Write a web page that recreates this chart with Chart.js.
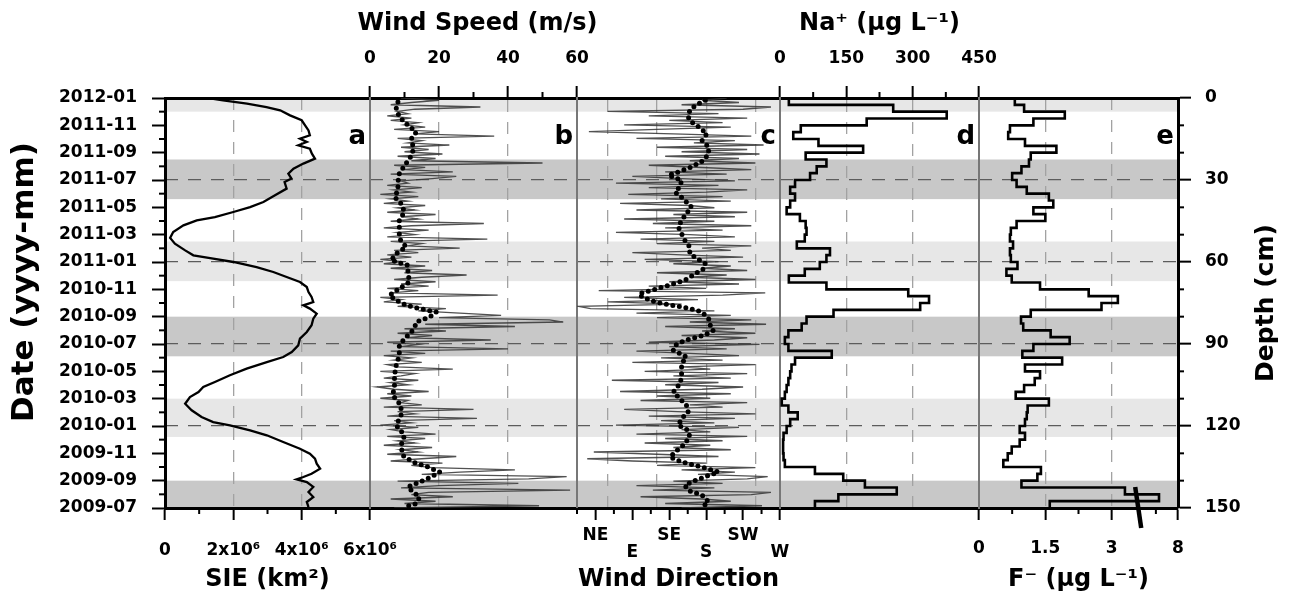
<!DOCTYPE html>
<html>
<head>
<meta charset="utf-8">
<title>SIE, wind and snow-pit ion profiles</title>
<script src="https://cdn.jsdelivr.net/npm/chart.js@4.4.1/dist/chart.umd.min.js"></script>
<style>
  html, body { margin: 0; padding: 0; background: #fff; }
  #fig { position: relative; width: 1302px; height: 598px; overflow: hidden; background: #fff; }
  #fig canvas { position: absolute; left: 0; top: 0; }
</style>
</head>
<body>
<div id="fig">
  <canvas id="panelA" width="1302" height="598"></canvas>
  <canvas id="panelB" width="1302" height="598"></canvas>
  <canvas id="panelC" width="1302" height="598"></canvas>
  <canvas id="panelD" width="1302" height="598"></canvas>
  <canvas id="panelE" width="1302" height="598"></canvas>
</div>
<script>
// ========================================================================
// 1. DATA
// ========================================================================

// shared vertical axes: months since 2009-07 (left) and depth in cm (right)
const dateTickLabels = ['2009-07', '2009-09', '2009-11', '2010-01', '2010-03', '2010-05', '2010-07', '2010-09',
  '2010-11', '2011-01', '2011-03', '2011-05', '2011-07', '2011-09', '2011-11', '2012-01'];
const dateMinor = [1, 3, 5, 7, 9, 11, 13, 15, 17, 19, 21, 23, 25, 27, 29];
const depthTicks = [0, 30, 60, 90, 120, 150];
const depthTickLabels = ['0', '30', '60', '90', '120', '150'];
const depthMinor = [10, 20, 40, 50, 70, 80, 100, 110, 130, 140];

// shaded layers (depth, cm)
const bandFrom = [0, 22.5, 52.5, 80, 110, 140];
const bandTo = [5, 37, 67, 94.5, 124, 150];
const bandTone = ['light', 'dark', 'light', 'dark', 'light', 'dark'];

// a: sea ice extent, 10^6 km² (months since 2009-07, newest first)
const sieMonths = [30.0, 29.83, 29.59, 29.34, 29.1, 28.73, 28.37, 28.0, 27.63, 27.27,
  27.02, 26.78, 26.54, 26.29, 25.93, 25.56, 25.2, 24.83, 24.46, 24.1,
  23.85, 23.37, 22.88, 22.39, 22.02, 21.66, 21.29, 21.05, 20.68, 20.2,
  19.76, 19.34, 18.85, 18.49, 18.24, 18.0, 17.63, 17.27, 16.9, 16.54,
  16.17, 15.8, 15.44, 15.07, 14.83, 14.59, 14.22, 13.85, 13.37, 12.88,
  12.39, 11.9, 11.41, 11.05, 10.68, 10.2, 9.71, 9.22, 8.85, 8.49,
  8.12, 7.63, 7.15, 6.66, 6.29, 6.05, 5.68, 5.32, 4.83, 4.34,
  3.98, 3.61, 3.24, 2.88, 2.51, 2.27, 2.1, 1.9, 1.54, 1.17,
  0.8, 0.44, 0.07];
const sieValues = [1.27, 1.7, 2.4, 2.97, 3.37, 3.66, 4.0, 4.1, 4.2, 4.24,
  3.95, 4.15, 3.9, 4.24, 4.3, 4.39, 4.05, 3.76, 3.61, 3.7,
  3.5, 3.56, 3.22, 2.88, 2.49, 2.0, 1.46, 0.93, 0.54, 0.24,
  0.15, 0.29, 0.59, 0.83, 1.41, 2.0, 2.68, 3.17, 3.56, 3.95,
  4.15, 4.2, 4.29, 4.34, 4.05, 4.24, 4.44, 4.34, 4.29, 4.15,
  3.95, 3.9, 3.71, 3.46, 2.98, 2.39, 1.9, 1.46, 1.12, 0.98,
  0.73, 0.59, 0.78, 1.07, 1.41, 1.9, 2.49, 2.98, 3.46, 3.95,
  4.24, 4.39, 4.44, 4.54, 4.29, 4.05, 3.85, 4.15, 4.34, 4.2,
  4.34, 4.15, 4.2];
const sieTickLabels = ['0', '2x10⁶', '4x10⁶', '6x10⁶'];

// b/c: wind samples, one about every 5 days from 2009-07 to 2012-01 (oldest first)
const windSpeed = [7, 49, 10, 19, 6, 24, 12, 17, 58, 9,
  20, 43, 8, 46, 57, 15, 26, 42, 18, 12,
  21, 6, 15, 25, 5, 14, 9, 18, 4, 13,
  8, 16, 5, 19, 10, 6, 14, 3, 12, 7,
  31, 5, 13, 8, 30, 4, 15, 9, 11, 3,
  12, 5, 17, 7, 2, 11, 6, 14, 4, 9,
  13, 3, 24, 8, 5, 15, 7, 12, 4, 16,
  6, 40, 9, 14, 5, 35, 11, 18, 8, 22,
  10, 42, 16, 56, 52, 20, 38, 26, 14, 22,
  8, 15, 4, 9, 3, 37, 6, 14, 5, 17,
  9, 19, 7, 15, 28, 10, 18, 6, 16, 4,
  9, 3, 12, 5, 14, 7, 26, 11, 15, 6,
  34, 5, 13, 8, 17, 4, 12, 33, 6, 14,
  9, 19, 5, 13, 8, 16, 4, 11, 6, 14,
  3, 12, 7, 15, 5, 11, 9, 18, 25, 6,
  24, 10, 16, 7, 50, 12, 19, 8, 21, 10,
  17, 9, 23, 11, 15, 8, 36, 13, 20, 7,
  16, 10, 14, 6, 12, 5, 11, 8, 13, 32,
  6, 12, 20, 9];
const windDir = [150, 248, 130, 210, 175, 100, 235, 259, 115, 190,
  95, 200, 140, 230, 255, 170, 215, 150, 240, 120,
  180, 90, 35, 195, 120, 43, 210, 140, 185, 105,
  200, 130, 230, 95, 185, 150, 220, 70, 190, 125,
  215, 110, 240, 145, 80, 200, 160, 230, 100, 185,
  120, 210, 75, 175, 225, 130, 195, 65, 210, 140,
  230, 105, 185, 150, 240, 90, 200, 125, 220, 160,
  95, 205, 135, 245, 110, 190, 230, 150, 240, 175,
  215, 130, 253, 160, 235, 120, 210, 95, 190, 39,
  25, 150, 60, 170, 80, 200, 252, 49, 180, 110,
  220, 135, 240, 160, 205, 120, 230, 175, 210, 140,
  195, 105, 225, 150, 90, 210, 175, 235, 120, 190,
  100, 215, 160, 70, 200, 130, 235, 115, 190, 80,
  215, 140, 230, 95, 190, 160, 75, 210, 125, 200,
  85, 180, 230, 110, 195, 70, 215, 150, 90, 205,
  130, 235, 175, 110, 240, 160, 220, 130, 245, 150,
  230, 120, 250, 165, 215, 95, 235, 140, 37, 120,
  210, 80, 200, 135, 230, 110, 195, 60, 225, 259,
  150, 220, 175, 205];

// b: smoothed wind speed (dots), newest first
const meanSpeedMonths = [29.71, 29.22, 28.61, 28.0, 27.51, 27.02, 26.54, 26.05, 25.56, 25.07,
  24.46, 23.85, 23.24, 22.76, 22.27, 21.66, 21.05, 20.44, 19.71, 19.1,
  18.61, 18.12, 17.76, 17.15, 16.54, 16.05, 15.56, 15.2, 14.83, 14.59,
  14.34, 13.98, 13.61, 13.24, 12.88, 12.39, 11.9, 11.17, 10.44, 9.71,
  8.98, 8.24, 7.51, 6.78, 6.05, 5.32, 4.59, 3.85, 3.37, 3.0,
  2.63, 2.27, 1.9, 1.54, 1.17, 0.8, 0.32, 0.07];
const meanSpeed = [8.1, 7.6, 8.5, 11, 13.4, 12, 12.4, 12.4, 11.5, 10,
  8.5, 8.1, 8.1, 7.1, 9, 10, 8.5, 8.5, 8.5, 10.5,
  7.6, 6.1, 11, 11, 11.5, 8.5, 5.6, 7.6, 10.5, 14.4,
  19.2, 17.3, 13.4, 13, 12, 10, 8.5, 8.5, 7.6, 7.1,
  7.1, 6.6, 9, 9, 7.6, 10, 9, 9.5, 12.4, 16.8,
  20.2, 17.8, 14.4, 11, 12.4, 14.4, 13.4, 10];
const speedTickLabels = ['0', '20', '40', '60'];
const speedMinor = [10, 30, 50];

// c: smoothed wind direction (dots, degrees), newest first
const meanDirMonths = [29.83, 29.46, 29.1, 28.61, 28.24, 27.88, 27.39, 26.9, 26.41, 25.93,
  25.44, 24.95, 24.59, 24.34, 23.98, 23.49, 23.12, 22.63, 22.02, 21.54,
  21.05, 20.56, 20.07, 19.59, 19.1, 18.61, 18.24, 17.88, 17.51, 17.15,
  16.66, 16.29, 15.93, 15.68, 15.44, 15.07, 14.83, 14.63, 14.34, 13.85,
  13.37, 13.0, 12.63, 12.27, 11.9, 11.54, 11.05, 10.56, 10.07, 9.59,
  9.1, 8.49, 8.0, 7.51, 7.02, 6.54, 6.05, 5.68, 5.2, 4.59,
  4.1, 3.73, 3.37, 3.0, 2.63, 2.39, 2.02, 1.66, 1.29, 0.93,
  0.44, 0.07];
const meanDir = [179, 167, 160, 158, 162, 171, 181, 175, 183, 183,
  177, 162, 146, 134, 150, 148, 142, 152, 162, 156,
  150, 146, 150, 154, 160, 160, 169, 179, 177, 167,
  154, 134, 114, 98, 102, 118, 138, 158, 175, 183,
  185, 189, 177, 154, 142, 140, 156, 150, 150, 150,
  148, 140, 148, 156, 158, 150, 146, 158, 160, 152,
  142, 136, 150, 175, 195, 183, 167, 154, 158, 175,
  183, 175];
const dirTicks = [45, 90, 135, 180, 225, 270];
const dirLabels = ['NE', 'E', 'SE', 'S', 'SW', 'W'];
const dirGrid = [60, 120, 180, 240];
const dirMinor = [22.5, 67.5, 112.5, 157.5, 202.5, 247.5];

// d/e: snow-pit samples, 2.5 cm each from the surface down to 150 cm
const sampleDepth = 2.5;
const naValues = [20, 256, 377, 196, 47, 30, 87, 188, 58, 105,
  83, 68, 34, 23, 34, 23, 15, 45, 58, 60,
  56, 38, 113, 105, 90, 56, 20, 105, 290, 337,
  317, 121, 60, 49, 19, 11, 19, 117, 34, 26,
  23, 19, 15, 11, 4, 19, 40, 23, 15, 8,
  7, 7, 8, 11, 79, 143, 192, 264, 132, 79];
const naTickLabels = ['0', '150', '300', '450'];
const naMinor = [75, 225, 375];

const fValues = [0.81, 1.02, 1.94, 1.23, 0.70, 0.66, 1.04, 1.75, 1.17, 1.13,
  0.96, 0.75, 0.85, 1.08, 1.58, 1.68, 1.23, 1.50, 0.85, 0.72,
  0.70, 0.77, 0.70, 0.72, 0.87, 0.62, 0.74, 1.38, 2.48, 3.14,
  2.77, 1.17, 0.95, 1.00, 1.62, 2.05, 1.23, 0.98, 1.88, 1.04,
  1.38, 1.26, 1.02, 0.83, 1.58, 1.10, 1.08, 1.04, 0.92, 1.04,
  0.92, 0.74, 0.65, 0.55, 1.40, 1.32, 0.96, 3.30, 5.9, 1.60];
const fTicks = [0, 1.5, 3, 4.5];
const fTickLabels = ['0', '1.5', '3', '8'];
const fMinor = [0.75, 2.25, 4.0];
// F axis is broken: linear up to fBreak, then compressed up to 8
const fBreak = 3.6, fAxisEnd = 4.5, fRealEnd = 8;

// ========================================================================
// 2. LAYOUT AND HELPERS
// ========================================================================

const FIG_W = 1302, FIG_H = 598, PLOT_TOP = 98, PLOT_BOTTOM = 508;
const panelEdges = [165, 370, 577, 780, 979, 1178];

Chart.defaults.font.family = 'DejaVu Sans';
Chart.defaults.font.weight = 'bold';
Chart.defaults.color = '#000';

const TICK_FONT = { family: 'DejaVu Sans', size: 17, weight: 'bold' };
const TITLE_FONT = { family: 'DejaVu Sans', size: 24, weight: 'bold' };
const GRID_GREY = '#a2a2a2', DEPTH_GREY = '#5c5c5c', CLEAR = 'rgba(0,0,0,0)';

const fixWidth = w => s => { s.width = w; };
const fixHeight = h => s => { s.height = h; };
const innerOnly = (lo, hi, colour) => c =>
  (c.tick && (c.tick.value <= lo + 1e-9 || c.tick.value >= hi - 1e-9)) ? CLEAR : colour;
// label lookup by tick value (axis order may be reversed)
const labelFor = (values, labels) => v => labels[values.indexOf(v)];

const fToAxis = v => v <= fBreak ? v : fBreak + (v - fBreak) * (fAxisEnd - fBreak) / (fRealEnd - fBreak);
const windMonth = i => i * 30 / (windSpeed.length - 1);

function profilePoints(values, toAxis) {
  const pts = values.map((v, k) => ({ x: toAxis ? toAxis(v) : v, y: k * sampleDepth }));
  pts.push({ x: pts[pts.length - 1].x, y: values.length * sampleDepth });
  return pts;
}

function dateAxis(n) {
  const first = n === 0;
  return {
    type: 'linear', position: 'left', min: 0, max: 30,
    afterFit: fixWidth(first ? panelEdges[0] : 0),
    ticks: { display: first, stepSize: 2, autoSkip: false, padding: 15, font: TICK_FONT, color: '#000',
      callback: v => dateTickLabels[Math.round(v / 2)] },
    grid: { display: first, drawOnChartArea: false, tickLength: 13, tickWidth: 2, tickColor: '#000' },
    border: { display: true, color: first ? '#000' : '#777', width: first ? 3 : 2 }
  };
}

function depthAxis(n) {
  const last = n === panelEdges.length - 2;
  return {
    type: 'linear', position: 'right', min: 0, max: 150, reverse: true,
    afterFit: fixWidth(last ? FIG_W - panelEdges[n + 1] : 0),
    afterBuildTicks: s => { s.ticks = depthTicks.map(v => ({ value: v })); },
    ticks: { display: last, autoSkip: false, padding: 14, font: TICK_FONT, color: '#000',
      callback: labelFor(depthTicks, depthTickLabels) },
    grid: { display: true, drawOnChartArea: true, drawTicks: last, tickLength: 13, tickWidth: 2, tickColor: '#000',
      color: innerOnly(0, 150, DEPTH_GREY), lineWidth: 1.3 },
    border: { display: last, color: '#000', width: 3, dash: [13, 10] }
  };
}

function valueAxis(pos, o) {
  return {
    type: 'linear', position: pos, min: o.min, max: o.max,
    afterFit: fixHeight(pos === 'top' ? PLOT_TOP : FIG_H - PLOT_BOTTOM),
    afterBuildTicks: s => { s.ticks = o.ticks.map(v => ({ value: v })); },
    ticks: { autoSkip: false, maxRotation: 0, padding: o.pad, font: o.font || TICK_FONT, color: '#000',
      callback: o.label },
    grid: { drawOnChartArea: o.grid !== false, tickLength: 12, tickWidth: 2, tickColor: '#000',
      color: innerOnly(o.min, o.max, GRID_GREY), lineWidth: 1.3 },
    border: { color: '#000', width: 3, dash: [12, 10] },
    title: { display: !!o.title, text: o.title || '', font: TITLE_FONT, color: '#000',
      padding: pos === 'top' ? { top: 9, bottom: 0 } : { top: 0, bottom: 4 } }
  };
}

function frameAxis(pos, o) {
  const axis = {
    type: 'linear', position: pos, min: o.min, max: o.max,
    afterFit: fixHeight(pos === 'top' ? PLOT_TOP : FIG_H - PLOT_BOTTOM),
    ticks: { display: false },
    grid: { display: !!o.gridAt, drawOnChartArea: true, drawTicks: false, color: GRID_GREY, lineWidth: 1.3 },
    border: { color: '#000', width: 3, dash: [12, 10] }
  };
  if (o.gridAt) axis.afterBuildTicks = s => { s.ticks = o.gridAt.map(v => ({ value: v })); };
  return axis;
}

// bands under everything, minor ticks, panel letters, free titles, axis break
const panelDecor = {
  id: 'panelDecor',
  beforeDraw(chart) {
    const { ctx, chartArea: area } = chart;
    const yd = chart.scales.yDepth;
    ctx.save();
    bandFrom.forEach((from, i) => {
      const y1 = yd.getPixelForValue(from), y2 = yd.getPixelForValue(bandTo[i]);
      ctx.fillStyle = bandTone[i] === 'dark' ? '#c8c8c8' : '#e7e7e7';
      ctx.fillRect(area.left, Math.min(y1, y2), area.right - area.left, Math.abs(y2 - y1));
    });
    ctx.restore();
  },
  afterDraw(chart, args, opts) {
    const { ctx, chartArea: area } = chart;
    ctx.save();
    ctx.strokeStyle = '#000';
    ctx.lineWidth = 2;
    (opts.minor || []).forEach(m => {
      const s = chart.scales[m.scale];
      m.values.forEach(v => {
        const p = s.getPixelForValue(v);
        ctx.beginPath();
        if (s.position === 'left') { ctx.moveTo(area.left - 6, p); ctx.lineTo(area.left, p); }
        else if (s.position === 'right') { ctx.moveTo(area.right, p); ctx.lineTo(area.right + 6, p); }
        else if (s.position === 'top') { ctx.moveTo(p, area.top - 6); ctx.lineTo(p, area.top); }
        else { ctx.moveTo(p, area.bottom); ctx.lineTo(p, area.bottom + 6); }
        ctx.stroke();
      });
    });
    ctx.fillStyle = '#000';
    ctx.textBaseline = 'middle';
    if (opts.letter) {
      ctx.font = 'bold 26px "DejaVu Sans"';
      ctx.textAlign = 'right';
      ctx.fillText(opts.letter, area.right - 4, 137);
    }
    // title wider than its panel: drawn without the axis-title width limit
    if (opts.htitle) {
      ctx.font = 'bold 24px "DejaVu Sans"';
      ctx.textAlign = 'center';
      ctx.fillText(opts.htitle.text, (area.left + area.right) / 2 + 4, opts.htitle.y);
    }
    if (opts.vtitle) {
      const t = opts.vtitle;
      ctx.save();
      ctx.translate(t.x, t.y);
      ctx.rotate(-Math.PI / 2);
      ctx.font = 'bold ' + t.size + 'px "DejaVu Sans"';
      ctx.textAlign = 'center';
      ctx.fillText(t.text, 0, 0);
      ctx.restore();
    }
    if (opts.breakAt != null) {
      const x = chart.scales.x.getPixelForValue(opts.breakAt);
      ctx.lineWidth = 4.5;
      ctx.beginPath();
      ctx.moveTo(x - 3, area.bottom - 21);
      ctx.lineTo(x + 3, area.bottom + 20);
      ctx.stroke();
    }
    ctx.restore();
  }
};

function buildPanel(canvasId, n, xAxis, xOther, datasets, decor) {
  const last = n === panelEdges.length - 2;
  const scales = { x: xAxis, xo: xOther, yDate: dateAxis(n), yDepth: depthAxis(n) };
  return new Chart(document.getElementById(canvasId), {
    type: 'scatter',
    data: { datasets },
    plugins: [panelDecor],
    options: {
      responsive: false,
      animation: false,
      devicePixelRatio: 1,
      events: [],
      layout: { padding: {
        left: panelEdges[n] - (n === 0 ? panelEdges[0] : 0),
        right: FIG_W - panelEdges[n + 1] - (last ? FIG_W - panelEdges[n + 1] : 0),
        top: 0, bottom: 0 } },
      scales,
      plugins: { legend: { display: false }, tooltip: { enabled: false }, panelDecor: decor }
    }
  });
}

const lineSet = (data, yAxisID, extra) => Object.assign({
  data, xAxisID: 'x', yAxisID, showLine: true, pointRadius: 0, borderColor: '#000', borderWidth: 2.4, fill: false
}, extra);

const dotted = { borderWidth: 5, borderDash: [0, 6.6], borderCapStyle: 'round', borderColor: '#000' };
const noisy = { borderWidth: 1.35, borderColor: 'rgba(50,50,50,0.85)' };

// ========================================================================
// 3. PANELS
// ========================================================================

// a: sea ice extent
buildPanel('panelA', 0,
  valueAxis('bottom', { min: 0, max: 6, ticks: [0, 2, 4, 6], pad: 20, title: 'SIE (km²)',
    label: labelFor([0, 2, 4, 6], sieTickLabels) }),
  frameAxis('top', { min: 0, max: 6 }),
  [lineSet(sieMonths.map((m, i) => ({ x: sieValues[i], y: m })), 'yDate', { borderWidth: 2.3 })],
  { letter: 'a',
    minor: [{ scale: 'yDate', values: dateMinor }, { scale: 'x', values: [1, 3, 5] }],
    vtitle: { text: 'Date (yyyy-mm)', x: 25, y: 282, size: 31 } });

// b: wind speed
buildPanel('panelB', 1,
  valueAxis('top', { min: 0, max: 60, ticks: [0, 20, 40, 60], pad: 17,
    label: labelFor([0, 20, 40, 60], speedTickLabels) }),
  frameAxis('bottom', { min: 0, max: 60 }),
  [lineSet(meanSpeedMonths.map((m, i) => ({ x: meanSpeed[i], y: m })), 'yDate', dotted),
   lineSet(windSpeed.map((v, i) => ({ x: v, y: windMonth(i) })), 'yDate', noisy)],
  { letter: 'b', minor: [{ scale: 'x', values: speedMinor }],
    htitle: { text: 'Wind Speed (m/s)', y: 24 } });

// c: wind direction
buildPanel('panelC', 2,
  valueAxis('bottom', { min: 22.5, max: 270, ticks: dirTicks, pad: 7, grid: false, title: 'Wind Direction',
    font: { family: 'DejaVu Sans', size: 17, weight: 'bold', lineHeight: 1 },
    label: v => { const i = dirTicks.indexOf(v); return i % 2 ? ['', dirLabels[i]] : dirLabels[i]; } }),
  frameAxis('top', { min: 22.5, max: 270, gridAt: dirGrid }),
  [lineSet(meanDirMonths.map((m, i) => ({ x: meanDir[i], y: m })), 'yDate', dotted),
   lineSet(windDir.map((v, i) => ({ x: v, y: windMonth(i) })), 'yDate', noisy)],
  { letter: 'c', minor: [{ scale: 'x', values: dirMinor }] });

// d: sodium profile
buildPanel('panelD', 3,
  valueAxis('top', { min: 0, max: 450, ticks: [0, 150, 300, 450], pad: 17, title: 'Na⁺ (µg L⁻¹)',
    label: labelFor([0, 150, 300, 450], naTickLabels) }),
  frameAxis('bottom', { min: 0, max: 450 }),
  [lineSet(profilePoints(naValues), 'yDepth', { stepped: 'after', borderWidth: 2.6 })],
  { letter: 'd', minor: [{ scale: 'x', values: naMinor }] });

// e: fluoride profile (broken axis)
buildPanel('panelE', 4,
  valueAxis('bottom', { min: 0, max: fAxisEnd, ticks: fTicks, pad: 18, title: 'F⁻ (µg L⁻¹)',
    label: labelFor(fTicks, fTickLabels) }),
  frameAxis('top', { min: 0, max: fAxisEnd }),
  [lineSet(profilePoints(fValues, fToAxis), 'yDepth', { stepped: 'after', borderWidth: 2.6 })],
  { letter: 'e', breakAt: fBreak,
    minor: [{ scale: 'x', values: fMinor }, { scale: 'yDepth', values: depthMinor }],
    vtitle: { text: 'Depth (cm)', x: 1266, y: 303, size: 25 } });
</script>
</body>
</html>
